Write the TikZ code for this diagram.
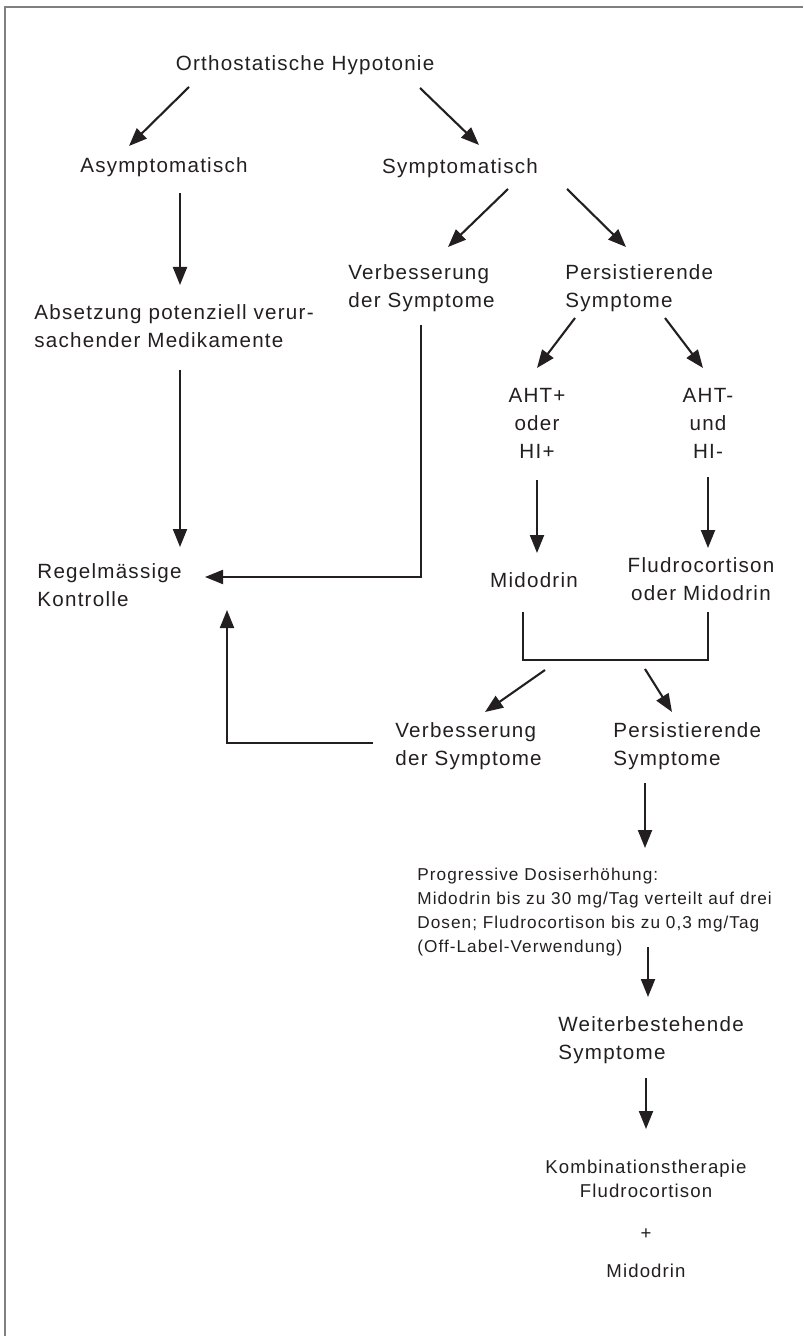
\documentclass[tikz,border=0pt]{standalone}
\usepackage{fontspec}
\setmainfont{Liberation Sans}[LetterSpace=6]
\usepackage{tikz}
\usetikzlibrary{arrows.meta}

\definecolor{ink}{RGB}{35,31,32}
\tikzset{
	txt/.style={inner sep=0pt, text=ink, align=center, font=\fontsize{10.3}{14}\selectfont},
	small/.style={txt, font=\fontsize{8.6}{12}\selectfont},
	arr/.style={line width=1.05pt, draw=ink, -{Triangle[length=9pt,width=7pt]}},
	ln/.style={line width=1.05pt, draw=ink},
}

\begin{document}
\begin{tikzpicture}[x=0.5pt, y=-0.5pt]
	\useasboundingbox (0,0) rectangle (803,1336);
	\draw[black!50, line width=0.8pt] (5,1336) |- (803,7);
	% first level
	\node[txt] (ortho) at (305,65) {Orthostatische Hypotonie};
	\node[txt] (asym) at (164,167) {Asymptomatisch};
	\node[txt] (sym) at (460,168) {Symptomatisch};
	\node[txt, anchor=west, align=left] (absetz) at (34,326) {Absetzung potenziell verur-\\sachender Medikamente};
	\node[txt, anchor=west, align=left] (regel) at (37,585) {Regelmässige\\Kontrolle};
	\node[txt, anchor=west, align=left] (verb1) at (348,288) {Verbesserung\\der Symptome};
	\node[txt, anchor=west, align=left] (pers1) at (565,288) {Persistierende\\Symptome};
	% drug choice
	\node[txt] (aht1) at (537,423) {AHT+\\oder\\HI+};
	\node[txt] (aht2) at (708,423) {AHT-\\und\\HI-};
	\node[txt] (mido) at (534,580) {Midodrin};
	\node[txt] (fludro) at (701,579) {Fludrocortison\\oder Midodrin};
	\node[txt, anchor=west, align=left] (verb2) at (395,746) {Verbesserung\\der Symptome};
	\node[txt, anchor=west, align=left] (pers2) at (613,746) {Persistierende\\Symptome};
	\node[small, anchor=west, align=left] (prog) at (417,912) {Progressive Dosiserhöhung:\\Midodrin bis zu 30 mg/Tag verteilt auf drei\\Dosen; Fludrocortison bis zu 0,3 mg/Tag\\(Off-Label-Verwendung)};
	\node[txt, anchor=west, align=left] (weiter) at (558,1040) {Weiterbestehende\\Symptome};
	\node[small, anchor=north, font=\fontsize{9.3}{12}\selectfont] (kombi) at (646,1160) {Kombinationstherapie\\Fludrocortison\\[8.75pt]+\\[7.25pt]Midodrin};

	\draw[arr] ([shift={(-116,22)}]ortho.center) -- ([shift={(-35,-21)}]asym.center);
	\draw[arr] ([shift={(115,23)}]ortho.center) -- ([shift={(19,-23)}]sym.center);
	\draw[arr] ([shift={(16,26)}]asym.center) -- ([shift={(146,-41)}]absetz.west);
	\draw[arr] ([shift={(146,44)}]absetz.west) -- ([shift={(143,-38)}]regel.west);
	\draw[arr] ([shift={(48,21)}]sym.center) -- ([shift={(100,-41)}]verb1.west);
	\draw[arr] ([shift={(107,21)}]sym.center) -- ([shift={(61,-41)}]pers1.west);
	\draw[arr] ([shift={(73,37)}]verb1.west) |- ([shift={(168,-8)}]regel.west);
	\draw[arr] ([shift={(10,30)}]pers1.west) -- ([shift={(0,-55)}]aht1.center);
	\draw[arr] ([shift={(100,30)}]pers1.west) -- ([shift={(-5,-55)}]aht2.center);
	\draw[arr] ([shift={(0,57)}]aht1.center) -- ([shift={(3,-27)}]mido.center);
	\draw[arr] ([shift={(0,54)}]aht2.center) -- ([shift={(7,-31)}]fludro.center);
	% both branches join
	\draw[ln] ([shift={(-11,32)}]mido.center) -- ++(0,48) coordinate (merge) -| ([shift={(7,33)}]fludro.center);
	\draw[arr] ([shift={(22,10)}]merge) -- ([shift={(90,-34)}]verb2.west);
	\draw[arr] ([shift={(122,9)}]merge) -- ([shift={(59,-34)}]pers2.west);
	\draw[arr] ([shift={(-22,-3)}]verb2.west) -| ([shift={(190,25)}]regel.west);
	\draw[arr] ([shift={(32,37)}]pers2.west) -- ([shift={(228,-64)}]prog.west);
	\draw[arr] ([shift={(231,35)}]prog.west) -- ([shift={(90,-43)}]weiter.west);
	\draw[arr] ([shift={(88,38)}]weiter.west) -- ([shift={(0,-31)}]kombi.north);
\end{tikzpicture}
\end{document}
